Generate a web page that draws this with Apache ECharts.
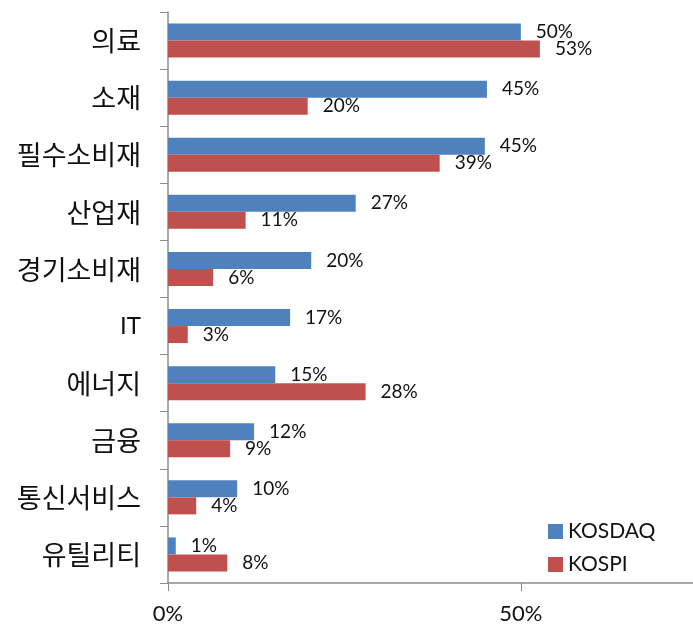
<!DOCTYPE html>
<html>
<head>
<meta charset="utf-8">
<script src="https://cdn.jsdelivr.net/npm/echarts@6/dist/echarts.min.js"></script>
<style>
  html, body { margin: 0; padding: 0; background: #fff; }
  #main { width: 693px; height: 629px; }
</style>
</head>
<body>
<div id="main"></div>
<script>
// 업종별 비율 (KOSDAQ / KOSPI)
var categories = ['의료', '소재', '필수소비재', '산업재', '경기소비재', 'IT', '에너지', '금융', '통신서비스', '유틸리티'];
var kosdaq = [50.0, 45.2, 44.9, 26.6, 20.3, 17.3, 15.2, 12.2, 9.8, 1.1];
var kospi = [52.7, 19.8, 38.5, 11.0, 6.4, 2.8, 28.0, 8.8, 4.0, 8.4];
var xTicks = [0, 50];

var latin = 'Lato, "Noto Sans CJK KR", sans-serif';

var myChart = echarts.init(document.getElementById('main'));

var labelOpt = {
  show: true,
  position: 'right',
  distance: 15,
  color: '#111',
  fontFamily: latin,
  fontSize: 19,
  formatter: function (p) { return Math.round(p.value) + '%'; }
};

var option = {
  animation: false,
  grid: { left: 168, top: 12, right: 0, bottom: 46, containLabel: false },
  legend: {
    data: ['KOSDAQ', 'KOSPI'],
    orient: 'vertical',
    left: 543,
    top: 516,
    icon: 'rect',
    itemWidth: 15,
    itemHeight: 15,
    itemGap: 12,
    textStyle: { fontSize: 21, color: '#111', fontFamily: latin }
  },
  xAxis: {
    type: 'value',
    min: 0,
    max: 74.4,
    interval: 50,
    splitLine: { show: false },
    axisLine: { show: true, lineStyle: { color: '#8c8c8c', width: 1.5 } },
    axisTick: { show: true, length: 8, lineStyle: { color: '#8c8c8c' } },
    axisLabel: {
      margin: 20,
      fontSize: 22,
      color: '#111',
      fontFamily: latin,
      showMaxLabel: false,
      formatter: function (v) { return xTicks.indexOf(v) >= 0 ? v + '%' : ''; }
    }
  },
  yAxis: {
    type: 'category',
    data: categories,
    inverse: true,
    axisLine: { show: true, lineStyle: { color: '#8c8c8c', width: 1.5 } },
    axisTick: { show: true, length: 8, lineStyle: { color: '#8c8c8c' } },
    axisLabel: {
      margin: 27,
      color: '#111',
      fontFamily: latin,
      formatter: function (v) {
        return /^[A-Za-z]+$/.test(v) ? '{lat|' + v + '}' : '{kr|' + v + '}';
      },
      rich: {
        kr: { fontSize: 27, color: '#111', padding: [4, 0, 0, 0] },
        lat: { fontSize: 24, color: '#111', fontFamily: latin }
      }
    }
  },
  series: [
    {
      name: 'KOSDAQ',
      type: 'bar',
      data: kosdaq,
      barWidth: 17,
      barGap: '0%',
      itemStyle: { color: '#4f81bd' },
      label: labelOpt
    },
    {
      name: 'KOSPI',
      type: 'bar',
      data: kospi,
      barWidth: 17,
      barGap: '0%',
      itemStyle: { color: '#c0504d' },
      label: labelOpt
    }
  ]
};

myChart.setOption(option);

window.onresize = () => {
  myChart.resize()
}
</script>
</body>
</html>
